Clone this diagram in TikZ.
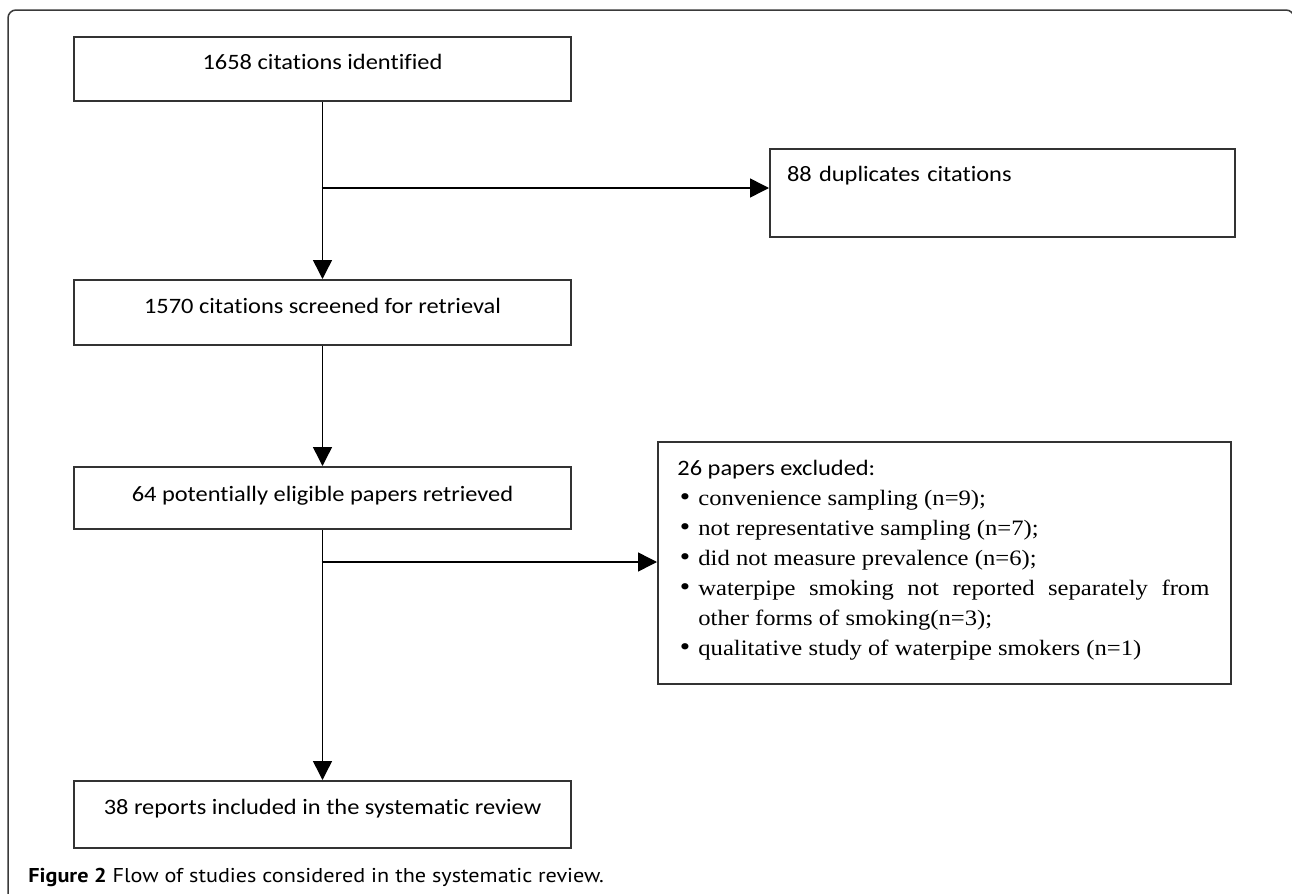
\documentclass[tikz,border=0pt]{standalone}
\usepackage{fontspec}
\newfontfamily\calib[FakeStretch=1.11,RawFeature={-liga;-clig;-dlig;-calt;-hlig}]{Carlito}
\newfontfamily\tms[FakeStretch=1.12]{Liberation Serif}
\newfontfamily\capf[FakeStretch=1.11]{PT Sans}
\usetikzlibrary{arrows.meta}
\definecolor{boxgray}{HTML}{333333}
\definecolor{framegray}{HTML}{3A3A3A}
\newcommand\exitem[1]{\par\noindent\hangindent=10.5pt\hangafter=1\hspace*{1.2pt}\makebox[9.3pt][l]{\raisebox{-0.2pt}{\scalebox{1.2}{\textbullet}}}#1}
\tikzset{
  boxnode/.style={draw=boxgray, line width=1pt, inner sep=0pt, anchor=north west,
    font=\calib\fontsize{11}{13}\selectfont},
  flow/.style={draw=black, line width=0.75pt, -{Triangle[length=9.5pt,width=9.5pt]}},
}
\begin{document}
\begin{tikzpicture}[x=0.5pt,y=-0.5pt]
\useasboundingbox (0,0) rectangle (1292,894);
\fill[white] (0,0) rectangle (1292,894);
\draw[framegray, line width=0.75pt, rounded corners=4pt] (8,905) -- (8,10) -- (1294,10) -- (1294,905);

\node[boxnode, minimum width=248.5pt, text height=16pt, text depth=16pt] (b1) at (73,36) {1658 citations identified};
\node[boxnode, minimum width=248.5pt, text height=16.5pt, text depth=16pt] (b2) at (73,279) {1570 citations screened for retrieval};
\node[boxnode, minimum width=248.5pt, text height=17pt, text depth=14pt] (b3) at (73,466) {64 potentially eligible papers retrieved};
\node[boxnode, minimum width=248.5pt, text height=16.5pt, text depth=17pt] (b5) at (73,780) {38 reports included in the systematic review};

\node[boxnode, text width=215.5pt, inner xsep=8.5pt, align=left, text height=16pt, text depth=28pt] (dup) at (769,148) {88 duplicates citations};

\node[boxnode, minimum width=286.5pt, minimum height=121pt] (exc) at (657,441) {};
\node[anchor=base west, inner sep=0pt, text width=266pt, align=justify,
      font=\tms\fontsize{11}{15}\selectfont] (exlist) at (677,475) {%
  \noindent{\calib 26 papers excluded:}%
  \exitem{convenience sampling (n=9);}%
  \exitem{not representative sampling (n=7);}%
  \exitem{did not measure prevalence (n=6);}%
  \exitem{waterpipe smoking not reported separately from\linebreak other forms of smoking(n=3);}%
  \exitem{qualitative study of waterpipe smokers (n=1)}};

\coordinate (j1) at (321.5,188);
\coordinate (j2) at (321.5,562);
\draw[flow] (b1) -- (b2);
\draw[flow] (j1) -- (j1 -| dup.west);
\draw[flow] (b2) -- (b3);
\draw[flow] (b3) -- (b5);
\draw[flow] (j2) -- (j2 -| exc.west);

\node[anchor=base west, inner sep=0pt, font=\capf\fontsize{10}{12}\selectfont] (cap) at (28,882)
  {\textbf{Figure 2} Flow of studies considered in the systematic review.};
\end{tikzpicture}
\end{document}
